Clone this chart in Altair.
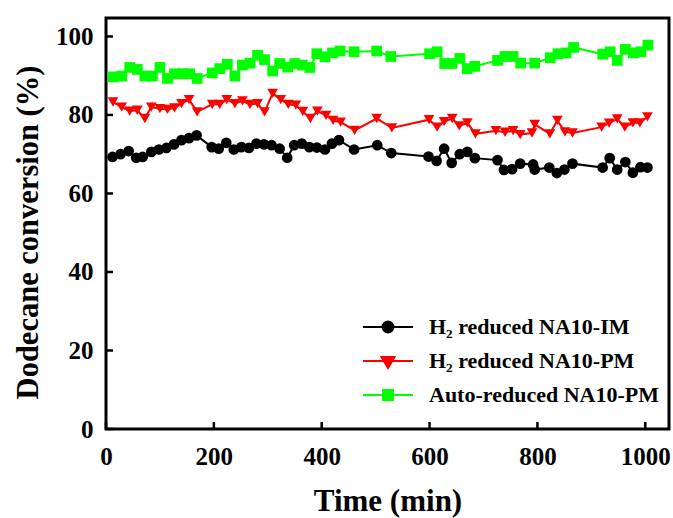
import altair as alt
import pandas as pd

series_names = ["H\u2082 reduced NA10-IM", "H\u2082 reduced NA10-PM", "Auto-reduced NA10-PM"]
series_colors = ["#000000", "#ff0000", "#00ff00"]
marker_shapes = ["circle", "triangle-down", "square"]

im_x = [12, 27, 42, 56, 68, 84, 98, 112, 126, 140, 154, 168,
        196, 209, 223, 237, 251, 265, 279, 293, 307, 322, 336, 349, 363, 377, 391, 406, 419, 432,
        460, 503, 529,
        598, 613, 627, 641, 656, 670, 684,
        726, 738, 753, 768, 792, 795,
        822, 836, 850, 865,
        921, 934, 948, 963, 977, 991, 1004]
im_y = [69.3, 70.0, 70.8, 69.1, 69.3, 70.6, 71.2, 71.6, 72.5, 73.6, 74.1, 74.8,
        71.8, 71.4, 72.9, 71.2, 71.8, 71.6, 72.7, 72.5, 72.3, 71.4, 69.1, 72.3, 72.7, 71.8, 71.7, 71.2, 72.7, 73.6,
        71.2, 72.3, 70.3,
        69.4, 68.3, 71.4, 67.8, 70.0, 70.6, 69.0,
        68.5, 66.0, 66.2, 67.6, 67.4, 66.1,
        66.6, 65.2, 66.1, 67.6,
        66.6, 69.0, 66.1, 68.0, 65.3, 66.7, 66.6]

pm_x = [13, 29, 44, 58, 72, 84, 100, 114, 127, 140, 154, 169,
        197, 211, 224, 239, 253, 267, 281, 294, 309, 324, 338, 352, 365, 379, 392, 408, 421, 435,
        461, 502, 530,
        599, 614, 627, 642, 655, 670, 685,
        723, 740, 755, 768, 790, 795,
        823, 837, 851, 865,
        919, 933, 948, 962, 977, 990, 1004]
pm_y = [83.3, 82.0, 81.0, 81.2, 79.1, 82.0, 81.6, 81.4, 81.8, 82.9, 83.9, 80.8,
        82.7, 82.7, 83.9, 82.9, 83.6, 82.7, 82.9, 80.8, 85.5, 83.9, 82.7, 82.5, 80.9, 79.1, 81.0, 79.9, 78.6, 78.2,
        76.1, 79.1, 76.7,
        78.8, 76.9, 78.3, 79.1, 77.2, 78.0, 75.2,
        76.0, 75.6, 76.0, 75.0, 75.4, 77.6,
        75.2, 78.6, 75.7, 75.4,
        76.9, 77.9, 79.0, 76.9, 78.0, 78.0, 79.5]

auto_x = [13, 29, 44, 58, 72, 86, 100, 114, 127, 142, 155, 169,
          197, 211, 225, 239, 253, 267, 281, 294, 309, 322, 337, 350, 364, 378, 391, 406, 420, 434,
          460, 502, 528,
          600, 614, 628, 641, 656, 670, 684,
          726, 740, 755, 769, 795,
          824, 838, 853, 867,
          921, 935, 948, 963, 978, 992, 1005]
auto_y = [89.7, 89.9, 92.1, 91.6, 89.9, 89.9, 92.1, 89.3, 90.5, 90.5, 90.5, 89.3,
          90.7, 91.8, 92.9, 89.9, 92.7, 93.2, 95.2, 94.1, 91.2, 93.1, 92.2, 93.1, 92.7, 92.1, 95.6, 94.8, 95.8, 96.3,
          96.1, 96.3, 94.9,
          95.6, 96.1, 93.1, 93.1, 94.4, 91.8, 92.4,
          93.9, 94.9, 94.9, 93.2, 93.2,
          94.6, 95.6, 95.8, 97.2,
          95.5, 96.1, 93.9, 96.7, 95.8, 96.1, 97.8]

x_ticks = [0, 200, 400, 600, 800, 1000]
y_ticks = [0, 20, 40, 60, 80, 100]

rows = []
for name, xs, ys in zip(series_names, [im_x, pm_x, auto_x], [im_y, pm_y, auto_y]):
    assert len(xs) == len(ys)
    for a, b in zip(xs, ys):
        rows.append({"time": a, "conv": b, "series": name})
df = pd.DataFrame(rows)

FONT = "Liberation Serif"
W, H = 563, 411
xscale = alt.Scale(domain=[0, 1044], nice=False, zero=False)
yscale = alt.Scale(domain=[0, 104.7], nice=False, zero=False)

def cscale():
    return alt.Scale(domain=series_names, range=series_colors)

xaxis = alt.Axis(title="Time (min)", values=x_ticks, format="d", ticks=False, domain=False, grid=False,
                 labelFont=FONT, labelFontWeight="bold", labelFontSize=25, labelPadding=15,
                 labelColor="black", titleFont=FONT, titleFontWeight="bold", titleFontSize=31,
                 titleColor="black", titlePadding=17, labelFlush=False)
yaxis = alt.Axis(title="Dodecane conversion (%)", values=y_ticks, format="d", ticks=False, domain=False, grid=False,
                 labelFont=FONT, labelFontWeight="bold", labelFontSize=25, labelPadding=13,
                 labelColor="black", titleFont=FONT, titleFontWeight="bold", titleFontSize=30.5,
                 titleColor="black", titlePadding=12, titleY=214, labelFlush=False)

X = alt.X("time:Q", scale=xscale, axis=xaxis)
Y = alt.Y("conv:Q", scale=yscale, axis=yaxis)

lines = alt.Chart(df).mark_line(strokeWidth=2).encode(
    x=X, y=Y, color=alt.Color("series:N", scale=cscale(), legend=None),
    detail="series:N")

points = alt.Chart(df).mark_point(filled=True, opacity=1, size=115).encode(
    x=X, y=Y,
    color=alt.Color("series:N", scale=cscale(), legend=None),
    shape=alt.Shape("series:N", scale=alt.Scale(domain=series_names, range=marker_shapes), legend=None))

legend_paths = [
    "M-5,0H5M1.1,0A1.1,1.1,0,1,1,-1.1,0A1.1,1.1,0,1,1,1.1,0Z",
    "M-5,0H5M-1.3,-0.8L1.3,-0.8L0,1.4Z",
    "M-5,0H5M-1,-1H1V1H-1Z",
]

def leg():
    return alt.Legend(title=None, orient="none", legendX=271, legendY=298,
                      labelFont=FONT, labelFontWeight="bold", labelFontSize=22,
                      labelColor="black", symbolSize=100, rowPadding=12,
                      labelOffset=30, labelLimit=400, symbolStrokeWidth=2, symbolOpacity=1)

legend_layer = alt.Chart(df).transform_filter("false").mark_point(filled=True, opacity=1).encode(
    x=X, y=Y,
    fill=alt.Fill("series:N", scale=cscale(), legend=leg()),
    stroke=alt.Stroke("series:N", scale=cscale(), legend=leg()),
    shape=alt.Shape("series:N", scale=alt.Scale(domain=series_names, range=legend_paths), legend=leg()))

ytick_layer = alt.Chart(pd.DataFrame({"conv": y_ticks})).mark_rule(color="black", strokeWidth=2.5).encode(
    y=Y, x=alt.value(0), x2=alt.value(7))
xtick_layer = alt.Chart(pd.DataFrame({"time": x_ticks})).mark_rule(color="black", strokeWidth=2.5).encode(
    x=X, y=alt.value(H), y2=alt.value(H - 7))

chart = alt.layer(lines, points, legend_layer, ytick_layer, xtick_layer).resolve_scale(
    shape="independent", color="independent", fill="independent", stroke="independent"
).properties(
    width=W, height=H,
    background="white",
    autosize=alt.AutoSizeParams(type="none"),
    padding={"left": 106, "top": 18, "right": 4, "bottom": 89},
).configure_view(stroke="black", strokeWidth=3)

chart.save("out.html", embed_options={"renderer": "svg", "actions": False})
